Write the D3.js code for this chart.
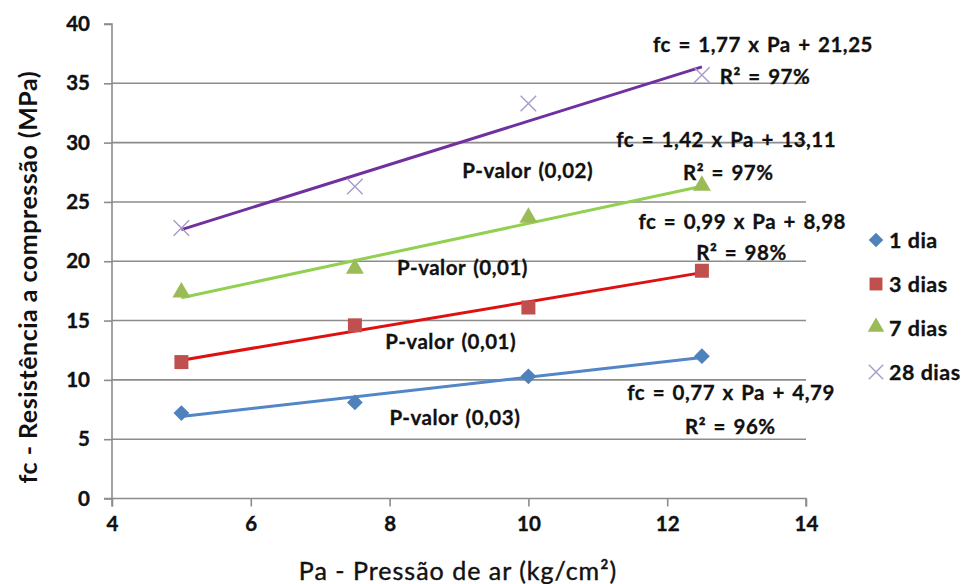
<!DOCTYPE html>
<html>
<head>
<meta charset="utf-8">
<script src="https://cdn.jsdelivr.net/npm/d3@7"></script>
<style>
    body { margin: 0; background: #fff; }
    text { font-family: Lato, 'Open Sans', sans-serif; fill: #111; }
</style>
</head>
<body>
<div id="chart"></div>
<script>
// data
const pressures = [5, 7.5, 10, 12.5];
const seriesNames = ['1 dia', '3 dias', '7 dias', '28 dias'];
const dia1 = [7.2, 8.1, 10.3, 12.0];
const dias3 = [11.5, 14.6, 16.1, 19.2];
const dias7 = [17.3, 19.3, 23.6, 26.3];
const dias28 = [22.8, 26.3, 33.3, 35.7];
const xTicks = [4, 6, 8, 10, 12, 14];
const yTicks = [0, 5, 10, 15, 20, 25, 30, 35, 40];
const equations = ['fc = 0,77 x Pa + 4,79', 'fc = 0,99 x Pa + 8,98', 'fc = 1,42 x Pa + 13,11', 'fc = 1,77 x Pa + 21,25'];
const r2Labels = ['R² = 96%', 'R² = 98%', 'R² = 97%', 'R² = 97%'];
const pValues = ['P-valor (0,03)', 'P-valor (0,01)', 'P-valor (0,01)', 'P-valor (0,02)'];

class TrendChart {

    constructor(_config, data) {
        this.config = {
            parentElement: _config.parentElement, containerWidth: 967, containerHeight: 584,
            margin: { top: 24, right: 161, bottom: 85.5, left: 112 }
        }
        this.data = data;
        this.initVis();
    }

    initVis() {
        let vis = this;

        vis.width = vis.config.containerWidth - vis.config.margin.left - vis.config.margin.right;
        vis.height = vis.config.containerHeight - vis.config.margin.top - vis.config.margin.bottom;

        vis.xScale = d3.scaleLinear().domain([4, 14]).range([0, vis.width]);
        vis.yScale = d3.scaleLinear().domain([0, 40]).range([vis.height, 0]);

        vis.svg = d3.select(vis.config.parentElement).append('svg')
            .attr('width', vis.config.containerWidth)
            .attr('height', vis.config.containerHeight)
            .style('background', '#fff');

        vis.chart = vis.svg.append('g')
            .attr('transform', `translate(${vis.config.margin.left},${vis.config.margin.top})`);

        // gridlines (no line at the top value)
        vis.chart.append('g')
            .selectAll('line')
            .data(yTicks.filter(d => d > 0 && d < 40))
            .join('line')
            .attr('x1', 0).attr('x2', vis.width)
            .attr('y1', d => vis.yScale(d)).attr('y2', d => vis.yScale(d))
            .attr('stroke', '#8c8c8c').attr('stroke-width', 1.6);

        vis.xAxis = d3.axisBottom(vis.xScale).tickValues(xTicks).tickSize(8).tickPadding(10).tickSizeOuter(8);
        vis.yAxis = d3.axisLeft(vis.yScale).tickValues(yTicks).tickSize(8).tickPadding(14).tickSizeOuter(8);

        vis.xAxisG = vis.chart.append('g')
            .attr('transform', `translate(0,${vis.height})`);
        vis.yAxisG = vis.chart.append('g');

        // axis titles
        vis.svg.append('text')
            .attr('transform', `translate(37,${vis.config.margin.top + vis.height / 2 + 16}) rotate(-90)`)
            .attr('text-anchor', 'middle')
            .style('font-size', '25px')
            .style('letter-spacing', '0.5px')
            .style('font-weight', 'bold')
            .text('fc - Resistência a compressão (MPa)');

        vis.svg.append('text')
            .attr('x', vis.config.margin.left + vis.xScale(9) - 1)
            .attr('y', 580)
            .attr('text-anchor', 'middle')
            .style('font-size', '25px')
            .style('letter-spacing', '1px')
            .style('stroke', '#111')
            .style('stroke-width', 0.4)
            .text('Pa - Pressão de ar (kg/cm²)');

        vis.lineG = vis.chart.append('g');
        vis.markG = vis.chart.append('g');
        vis.labelG = vis.chart.append('g');
        vis.legendG = vis.svg.append('g');
    }

    updateVis() {
        let vis = this;
        // least squares trend for each series
        vis.data.forEach(s => {
            const mx = d3.mean(s.values, d => d.x);
            const my = d3.mean(s.values, d => d.y);
            const sxy = d3.sum(s.values, d => (d.x - mx) * (d.y - my));
            const sxx = d3.sum(s.values, d => (d.x - mx) * (d.x - mx));
            s.slope = sxy / sxx;
            s.intercept = my - s.slope * mx;
            const x0 = d3.min(s.values, d => d.x), x1 = d3.max(s.values, d => d.x);
            s.trend = [x0, x1].map(x => ({ x: x, y: s.intercept + s.slope * x }));
        });
        vis.renderVis();
    }

    drawMarker(sel, shape, color, k) {
        if (shape === 'diamond') {
            sel.append('path')
                .attr('d', d3.symbol(d3.symbolSquare, 125 * k)())
                .attr('transform', 'rotate(45)')
                .attr('fill', color);
        } else if (shape === 'square') {
            sel.append('path')
                .attr('d', d3.symbol(d3.symbolSquare, 196 * k)())
                .attr('fill', color);
        } else if (shape === 'triangle') {
            sel.append('path')
                .attr('d', d3.symbol(d3.symbolTriangle, 140 * k)())
                .attr('transform', 'translate(0,-1)')
                .attr('fill', color);
        } else {
            sel.append('path')
                .attr('d', d3.symbol(d3.symbolX, 160 * k)())
                .attr('fill', 'none')
                .attr('stroke', color)
                .attr('stroke-width', 1.4);
        }
    }

    renderVis() {
        let vis = this;

        const line = d3.line()
            .x(d => vis.xScale(d.x))
            .y(d => vis.yScale(d.y));

        vis.lineG.selectAll('.trend')
            .data(vis.data)
            .join('path')
            .attr('class', 'trend')
            .attr('d', d => line(d.trend))
            .attr('fill', 'none')
            .attr('stroke', d => d.lineColor)
            .attr('stroke-width', 3);

        vis.data.forEach(s => {
            vis.markG.selectAll(null)
                .data(s.values)
                .join('g')
                .attr('transform', d => `translate(${vis.xScale(d.x)},${vis.yScale(d.y)})`)
                .each(function () { vis.drawMarker(d3.select(this), s.shape, s.markColor, 1); });
        });

        // equation, R² and p-value labels (anchors in data units)
        const txt = (x, y, t) => vis.labelG.append('text')
            .attr('x', vis.xScale(x))
            .attr('y', vis.yScale(y))
            .attr('dy', '0.35em')
            .attr('text-anchor', 'middle')
            .style('font-size', '20.5px')
            .style('letter-spacing', '0.5px')
            .style('word-spacing', '2px')
            .style('font-weight', 'bold')
            .style('stroke', '#111')
            .style('stroke-width', 0.3)
            .text(t);

        const eqPos = [[12.92, 8.89], [13.08, 23.31], [12.85, 30.22], [13.38, 38.23]];
        const r2Pos = [[12.91, 6.03], [13.07, 20.70], [12.88, 27.44], [13.41, 35.53]];
        const pPos = [[8.94, 6.79], [8.88, 13.19], [9.05, 19.43], [9.99, 27.61]];
        vis.data.forEach((s, i) => {
            txt(eqPos[i][0], eqPos[i][1], s.equation);
            txt(r2Pos[i][0], r2Pos[i][1], s.r2);
            txt(pPos[i][0], pPos[i][1], s.pValue);
        });

        // legend
        const legendRows = vis.legendG.selectAll('g')
            .data(vis.data)
            .join('g')
            .attr('transform', (d, i) => `translate(876,${240 + i * 44})`);
        legendRows.each(function (d) { vis.drawMarker(d3.select(this), d.shape, d.markColor, 0.85); });
        legendRows.append('text')
            .attr('x', 13)
            .attr('dy', '0.36em')
            .style('font-size', '21.5px')
            .style('letter-spacing', '0.5px')
            .style('font-weight', 'bold')
            .style('stroke', '#111')
            .style('stroke-width', 0.3)
            .text(d => d.name);

        // axes
        const styleAxis = g => {
            g.select('.domain').attr('stroke', '#8c8c8c').attr('stroke-width', 1.6);
            g.selectAll('.tick line').attr('stroke', '#8c8c8c').attr('stroke-width', 1.6);
            g.selectAll('.tick text')
                .style('font-family', 'Lato, sans-serif')
                .style('font-size', '20.5px')
                .style('font-weight', 'bold')
                .style('stroke', '#111')
                .style('stroke-width', 0.4)
                .attr('fill', '#111');
        };
        vis.xAxisG.call(vis.xAxis).call(styleAxis);
        vis.yAxisG.call(vis.yAxis).call(styleAxis);
        // the x axis line starts at the left tick end
        vis.xAxisG.select('.domain').attr('d', `M-8,0H${vis.width}V8`);
        vis.yAxisG.select('.domain').attr('d', `M-8,0H0V${vis.height + 8}`);
    }
}

const valueLists = [dia1, dias3, dias7, dias28];
const shapes = ['diamond', 'square', 'triangle', 'x'];
const markColors = ['#4f81bd', '#c0504d', '#9bbb59', '#a899cc'];
const lineColors = ['#5286c6', '#dd1111', '#92d050', '#7030a0'];

const seriesData = seriesNames.map((name, i) => ({
    name: name,
    values: pressures.map((p, j) => ({ x: p, y: valueLists[i][j] })),
    shape: shapes[i],
    markColor: markColors[i],
    lineColor: lineColors[i],
    equation: equations[i],
    r2: r2Labels[i],
    pValue: pValues[i]
}));

const chart = new TrendChart({ parentElement: '#chart' }, seriesData);
chart.updateVis();
</script>
</body>
</html>
